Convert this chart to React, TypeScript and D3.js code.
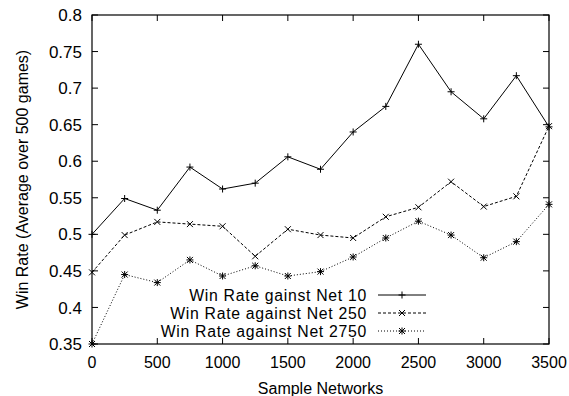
import React, { useRef, useEffect } from "react";
import * as d3 from "d3";

// sample network index
const samples = [0, 250, 500, 750, 1000, 1250, 1500, 1750, 2000, 2250, 2500, 2750, 3000, 3250, 3500];

const vsNet10 = [0.5, 0.549, 0.533, 0.592, 0.562, 0.57, 0.606, 0.589, 0.64, 0.675, 0.76, 0.695, 0.658, 0.717, 0.647];
const vsNet250 = [0.448, 0.499, 0.517, 0.514, 0.511, 0.47, 0.507, 0.499, 0.495, 0.524, 0.537, 0.572, 0.538, 0.552, 0.648];
const vsNet2750 = [0.35, 0.445, 0.434, 0.465, 0.443, 0.457, 0.443, 0.449, 0.469, 0.495, 0.518, 0.499, 0.468, 0.49, 0.541];

const xTicks = [0, 500, 1000, 1500, 2000, 2500, 3000, 3500];
const yTicks = [0.35, 0.4, 0.45, 0.5, 0.55, 0.6, 0.65, 0.7, 0.75, 0.8];

const seriesNames = ["Win Rate gainst Net 10", "Win Rate against Net 250", "Win Rate against Net 2750"];

type Marker = "plus" | "cross" | "star";

export default function App() {
  const svgRef = useRef<SVGSVGElement>(null);

  useEffect(() => {
    if (!svgRef.current) return;
    const svg = d3.select(svgRef.current);
    svg.selectAll("*").remove();

    const width = 569;
    const height = 396;
    const margin = { top: 15, right: 20, bottom: 52, left: 92 };
    const innerWidth = width - margin.left - margin.right;
    const innerHeight = height - margin.top - margin.bottom;
    const font = "'Liberation Sans', Arial, Helvetica, sans-serif";
    const fs = 17;

    const x = d3.scaleLinear().domain([0, 3500]).range([0, innerWidth]);
    const y = d3.scaleLinear().domain([0.35, 0.8]).range([innerHeight, 0]);

    const g = svg.append("g").attr("transform", `translate(${margin.left},${margin.top})`);

    // ticks on all four sides, pointing inwards
    const tickLen = 6;
    xTicks.forEach(t => {
      g.append("line").attr("x1", x(t)).attr("x2", x(t)).attr("y1", innerHeight).attr("y2", innerHeight - tickLen)
        .attr("stroke", "#000");
      g.append("line").attr("x1", x(t)).attr("x2", x(t)).attr("y1", 0).attr("y2", tickLen)
        .attr("stroke", "#000");
      g.append("text")
        .attr("x", x(t))
        .attr("y", innerHeight + 24)
        .attr("text-anchor", "middle")
        .style("font-family", font)
        .style("font-size", "16px")
        .text(t);
    });
    yTicks.forEach(t => {
      g.append("line").attr("x1", 0).attr("x2", tickLen).attr("y1", y(t)).attr("y2", y(t))
        .attr("stroke", "#000");
      g.append("line").attr("x1", innerWidth).attr("x2", innerWidth - tickLen).attr("y1", y(t)).attr("y2", y(t))
        .attr("stroke", "#000");
      g.append("text")
        .attr("x", -10)
        .attr("y", y(t))
        .attr("dy", "0.36em")
        .attr("text-anchor", "end")
        .style("font-family", font)
        .style("font-size", `${fs}px`)
        .text(String(t));
    });

    // frame
    g.append("rect")
      .attr("width", innerWidth)
      .attr("height", innerHeight)
      .attr("fill", "none")
      .attr("stroke", "#000")
      .attr("stroke-width", 1.2);

    // axis labels
    g.append("text")
      .attr("x", innerWidth / 2)
      .attr("y", innerHeight + 50)
      .attr("text-anchor", "middle")
      .style("font-family", font)
      .style("font-size", "16px")
      .text("Sample Networks");

    g.append("text")
      .attr("transform", "rotate(-90)")
      .attr("x", -innerHeight / 2)
      .attr("y", -64)
      .attr("text-anchor", "middle")
      .style("font-family", font)
      .style("font-size", "16px")
      .text("Win Rate (Average over 500 games)");

    const markerPath = (m: Marker, cx: number, cy: number) => {
      const p = 3.5;
      const c = 3;
      const plus = `M${cx - p},${cy}H${cx + p}M${cx},${cy - p}V${cy + p}`;
      const cross = `M${cx - c},${cy - c}L${cx + c},${cy + c}M${cx - c},${cy + c}L${cx + c},${cy - c}`;
      if (m === "plus") return plus;
      if (m === "cross") return cross;
      return plus + cross;
    };

    const series = [
      { values: vsNet10, dash: null as string | null, marker: "plus" as Marker },
      { values: vsNet250, dash: "3,2", marker: "cross" as Marker },
      { values: vsNet2750, dash: "1,2", marker: "star" as Marker },
    ];

    const line = d3.line<number>()
      .x((_, i) => x(samples[i]))
      .y(d => y(d));

    series.forEach(s => {
      const path = g.append("path")
        .datum(s.values)
        .attr("fill", "none")
        .attr("stroke", "#000")
        .attr("stroke-width", 1)
        .attr("d", line);
      if (s.dash) path.attr("stroke-dasharray", s.dash);

      g.append("path")
        .attr("d", s.values.map((v, i) => markerPath(s.marker, x(samples[i]), y(v))).join(""))
        .attr("stroke", "#000")
        .attr("stroke-width", 1)
        .attr("fill", "none");
    });

    // legend
    const legend = g.append("g").attr("transform", `translate(${367 - margin.left}, ${295 - margin.top})`);
    series.forEach((s, i) => {
      const row = legend.append("g").attr("transform", `translate(0, ${i * 18})`);
      row.append("text")
        .attr("x", 0)
        .attr("y", 0)
        .attr("dy", "0.36em")
        .attr("text-anchor", "end")
        .style("font-family", font)
        .style("font-size", "15.8px")
        .style("letter-spacing", "0.7px")
        .text(seriesNames[i]);
      const ln = row.append("line")
        .attr("x1", 11)
        .attr("x2", 59)
        .attr("y1", 0)
        .attr("y2", 0)
        .attr("stroke", "#000")
        .attr("stroke-width", 1);
      if (s.dash) ln.attr("stroke-dasharray", s.dash);
      row.append("path")
        .attr("d", markerPath(s.marker, 35, 0))
        .attr("stroke", "#000")
        .attr("stroke-width", 1)
        .attr("fill", "none");
    });
  }, []);

  return (
    <svg
      ref={svgRef}
      width={569}
      height={396}
      style={{ position: "absolute", left: 0, top: 0, display: "block", background: "#fff" }}
    />
  );
}
